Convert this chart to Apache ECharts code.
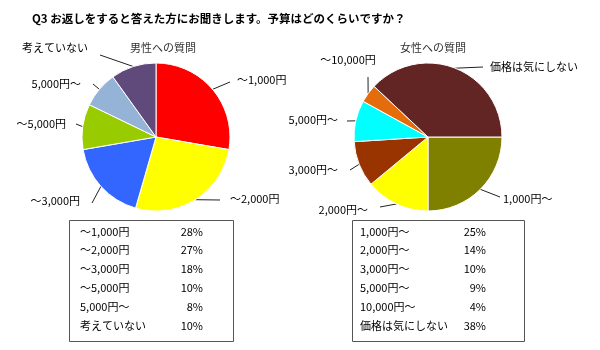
<!DOCTYPE html>
<html><head><meta charset="utf-8">
<script src="https://cdn.jsdelivr.net/npm/echarts@6/dist/echarts.min.js"></script>
<style>html,body{margin:0;padding:0;background:#fff}#c{width:600px;height:350px}</style>
</head><body><div id="c"></div>
<script>
var titleText = 'Q3 お返しをすると答えた方にお聞きします。予算はどのくらいですか？';
var maleTitle = '男性への質問';
var femaleTitle = '女性への質問';
var maleCategories = ['～1,000円', '～2,000円', '～3,000円', '～5,000円', '5,000円～', '考えていない'];
var maleValues = [28, 27, 18, 10, 8, 10];
var maleColors = ['#FF0000', '#FFFF00', '#3366FF', '#99CC00', '#95B3D7', '#604A7B'];
var femaleCategories = ['1,000円～', '2,000円～', '3,000円～', '5,000円～', '～10,000円', '価格は気にしない'];
var femaleTableCategories = ['1,000円～', '2,000円～', '3,000円～', '5,000円～', '10,000円～', '価格は気にしない'];
var femaleValues = [25, 14, 10, 9, 4, 38];
var femaleColors = ['#808000', '#FFFF00', '#993300', '#00FFFF', '#E46C0A', '#632523'];

// label placement (layout only): [lineOuterX, lineOuterY, textX, textY, align]
var maleLabelLayout = [
  [230, 82, 237, 80, 'left'],
  [220, 200, 230, 199, 'left'],
  [92, 203, 80, 201, 'right'],
  [76, 124, 66, 124, 'right'],
  [93, 84, 81, 84, 'right'],
  [100, 55, 88, 48, 'right']
];
var femaleLabelLayout = [
  [500, 197, 503, 199, 'left'],
  [380, 207, 368, 210, 'right'],
  [350, 170, 338, 170, 'right'],
  [347, 121, 338, 120, 'right'],
  [368, 77, 348, 60, 'center'],
  [483, 67, 490, 67, 'left']
];

var FONT = '"Noto Sans CJK JP", "Noto Sans", sans-serif';
var chart = echarts.init(document.getElementById('c'));

function pieData(cats, vals, cols) {
  return cats.map(function (c, i) { return { name: c, value: vals[i], itemStyle: { color: cols[i] } }; });
}

function tableGraphics(x, y, w, h, labelX, pctX, cats, vals) {
  var els = [{
    type: 'rect', shape: { x: x, y: y, width: w, height: h },
    style: { fill: '#fff', stroke: '#555', lineWidth: 1 }
  }];
  var rowH = 18.8;
  cats.forEach(function (c, i) {
    var cy = y + 11 + rowH * i;
    els.push({ type: 'text', x: labelX, y: cy, style: { text: c, fill: '#000', font: '11px ' + FONT, textAlign: 'left', textVerticalAlign: 'middle' } });
    els.push({ type: 'text', x: pctX, y: cy, style: { text: vals[i] + '%', fill: '#000', font: '11px ' + FONT, textAlign: 'right', textVerticalAlign: 'middle' } });
  });
  return els;
}

// leader line start: the slice's mid-angle point on the pie edge, from the data
function leaderLines(vals, center, r, startDeg, layout) {
  var total = vals.reduce(function (a, b) { return a + b; }, 0);
  var acc = 0, els = [];
  vals.forEach(function (v, i) {
    var mid = (acc + v / 2) / total * 360;
    acc += v;
    var a = (startDeg - mid) * Math.PI / 180;
    var sx = center[0] + r * Math.cos(a), sy = center[1] - r * Math.sin(a);
    els.push({ type: 'polyline', shape: { points: [[sx, sy], [layout[i][0], layout[i][1]]] },
      style: { stroke: '#222', lineWidth: 1, fill: null } });
  });
  return els;
}

function makeLayout(table) {
  return function (params) {
    var t = table[params.dataIndex];
    return { x: t[2], y: t[3], align: t[4], verticalAlign: 'middle' };
  };
}

var labelStyle = { color: '#000', fontSize: 11, fontFamily: FONT, formatter: '{b}' };
var maleCenter = [156, 137], femaleCenter = [428, 137], R = 74;

chart.setOption({
  animation: false,
  title: [
    { text: titleText, left: 27, top: 8, textStyle: { fontSize: 11.5, fontWeight: 'bold', fontFamily: FONT, color: '#000' } },
    { text: maleTitle, left: 158, top: 37, textAlign: 'center', textStyle: { fontSize: 11, fontWeight: 'normal', fontFamily: FONT, color: '#333' } },
    { text: femaleTitle, left: 428, top: 37, textAlign: 'center', textStyle: { fontSize: 11, fontWeight: 'normal', fontFamily: FONT, color: '#333' } }
  ],
  series: [
    {
      type: 'pie', center: maleCenter, radius: R, startAngle: 90, clockwise: true,
      avoidLabelOverlap: false,
      itemStyle: { borderColor: '#fff', borderWidth: 1 },
      label: labelStyle,
      labelLine: { show: false },
      labelLayout: makeLayout(maleLabelLayout),
      emphasis: { disabled: true },
      data: pieData(maleCategories, maleValues, maleColors)
    },
    {
      type: 'pie', center: femaleCenter, radius: R, startAngle: 0, clockwise: true,
      avoidLabelOverlap: false,
      itemStyle: { borderColor: '#fff', borderWidth: 1 },
      label: labelStyle,
      labelLine: { show: false },
      labelLayout: makeLayout(femaleLabelLayout),
      emphasis: { disabled: true },
      data: pieData(femaleCategories, femaleValues, femaleColors)
    }
  ],
  graphic: leaderLines(maleValues, maleCenter, R, 90, maleLabelLayout)
    .concat(leaderLines(femaleValues, femaleCenter, R, 0, femaleLabelLayout))
    .concat(tableGraphics(69.5, 220.5, 164, 121, 80, 203, maleCategories, maleValues))
    .concat(tableGraphics(352.5, 220.5, 172, 121, 360, 486, femaleTableCategories, femaleValues))
});
</script></body></html>
